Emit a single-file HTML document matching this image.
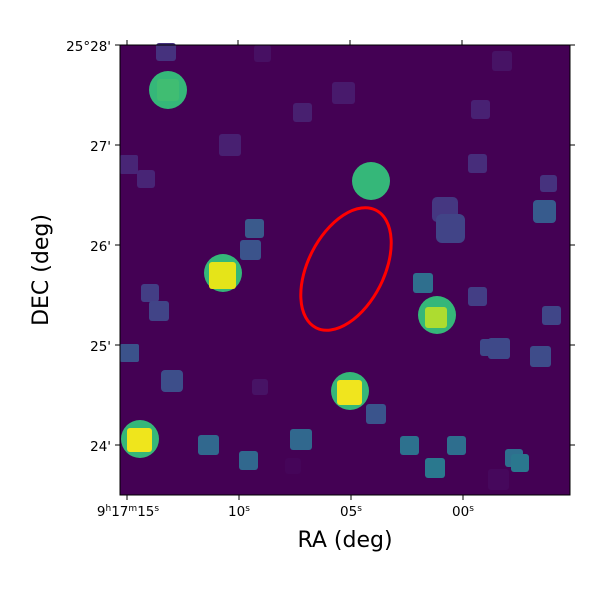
<!DOCTYPE html>
<html><head><style>body{margin:0;background:#fff}</style></head><body>
<svg width="600" height="600" xmlns="http://www.w3.org/2000/svg" font-family="DejaVu Sans, Liberation Sans, sans-serif">
<rect x="120" y="45" width="450" height="450" fill="#440154"/>
<g>
<g fill="#35b779">
<circle cx="168" cy="90" r="19"/><circle cx="371" cy="181" r="19"/><circle cx="223" cy="273" r="19"/>
<circle cx="437" cy="315" r="19"/><circle cx="350" cy="391" r="19"/><circle cx="140" cy="439" r="19"/>
</g>
<g>
<rect x="157" y="79" width="22" height="22" rx="3" fill="#40bd72"/>
<rect x="209" y="262" width="27" height="27" rx="3" fill="#e5e419"/>
<rect x="425" y="307" width="22" height="21" rx="3" fill="#addc30"/>
<rect x="337" y="380" width="25" height="25" rx="3" fill="#f0e51e"/>
<rect x="127" y="428" width="25" height="24" rx="3" fill="#efe51c"/>
</g>
<g>
<rect x="156" y="43" width="20" height="18" rx="3" fill="#46327e"/>
<rect x="254" y="45" width="17" height="17" rx="3" fill="#471063"/>
<rect x="492" y="51" width="20" height="20" rx="3" fill="#471365"/>
<rect x="332" y="82" width="23" height="22" rx="3" fill="#481a6c"/>
<rect x="293" y="103" width="19" height="19" rx="3" fill="#482070"/>
<rect x="471" y="100" width="19" height="19" rx="3" fill="#482173"/>
<rect x="219" y="134" width="22" height="22" rx="3" fill="#482071"/>
<rect x="120" y="155" width="18" height="19" rx="2" fill="#482576"/>
<rect x="137" y="170" width="18" height="18" rx="3" fill="#482576"/>
<rect x="468" y="154" width="19" height="19" rx="3" fill="#472d7b"/>
<rect x="540" y="175" width="17" height="17" rx="3" fill="#46327e"/>
<rect x="245" y="219" width="19" height="19" rx="3" fill="#3a5a8c"/>
<rect x="240" y="240" width="21" height="20" rx="3" fill="#3b538b"/>
<rect x="432" y="197" width="26" height="25" rx="5" fill="#453781"/>
<rect x="436" y="214" width="29" height="29" rx="6" fill="#414487"/>
<rect x="533" y="200" width="23" height="23" rx="4" fill="#375b8d"/>
<rect x="413" y="273" width="20" height="20" rx="3" fill="#2f6f8e"/>
<rect x="141" y="284" width="18" height="18" rx="3" fill="#433e85"/>
<rect x="149" y="301" width="20" height="20" rx="3" fill="#414487"/>
<rect x="468" y="287" width="19" height="19" rx="3" fill="#433e85"/>
<rect x="542" y="306" width="19" height="19" rx="3" fill="#404688"/>
<rect x="120" y="344" width="19" height="18" rx="2" fill="#3b528b"/>
<rect x="480" y="339" width="18" height="17" rx="3" fill="#3e4989"/>
<rect x="488" y="338" width="22" height="21" rx="3" fill="#3e4989"/>
<rect x="530" y="346" width="21" height="21" rx="3" fill="#3e4c8a"/>
<rect x="161" y="370" width="22" height="22" rx="4" fill="#3d4e8a"/>
<rect x="252" y="379" width="16" height="16" rx="3" fill="#471365"/>
<rect x="366" y="404" width="20" height="20" rx="3" fill="#3a548c"/>
<rect x="290" y="429" width="22" height="21" rx="3" fill="#31688e"/>
<rect x="198" y="435" width="21" height="20" rx="3" fill="#31688e"/>
<rect x="239" y="451" width="19" height="19" rx="3" fill="#31688e"/>
<rect x="400" y="436" width="19" height="19" rx="3" fill="#2d718e"/>
<rect x="447" y="436" width="19" height="19" rx="3" fill="#2e6e8e"/>
<rect x="425" y="458" width="20" height="20" rx="3" fill="#2a788e"/>
<rect x="505" y="449" width="18" height="18" rx="3" fill="#2e6f8e"/>
<rect x="511" y="454" width="18" height="18" rx="3" fill="#2a778e"/>
<rect x="488" y="469" width="21" height="21" rx="3" fill="#46085c"/>
<rect x="285" y="458" width="16" height="16" rx="3" fill="#450559"/>
</g>
</g>
<ellipse cx="346" cy="269" rx="38" ry="66" transform="rotate(27 346 269)" fill="none" stroke="#ff0000" stroke-width="3"/>
<rect x="120" y="45" width="450" height="450" fill="none" stroke="#000" stroke-width="1"/>
<g stroke="#000" stroke-width="1">
<line x1="127" y1="495" x2="127" y2="500"/><line x1="239" y1="495" x2="239" y2="500"/><line x1="351" y1="495" x2="351" y2="500"/><line x1="463" y1="495" x2="463" y2="500"/>
<line x1="127" y1="45" x2="127" y2="40"/><line x1="238" y1="45" x2="238" y2="40"/><line x1="350" y1="45" x2="350" y2="40"/><line x1="462" y1="45" x2="462" y2="40"/>
<line x1="120" y1="45" x2="115" y2="45"/><line x1="120" y1="145" x2="115" y2="145"/><line x1="120" y1="245" x2="115" y2="245"/><line x1="120" y1="345" x2="115" y2="345"/><line x1="120" y1="445" x2="115" y2="445"/>
<line x1="570" y1="45" x2="575" y2="45"/><line x1="570" y1="145" x2="575" y2="145"/><line x1="570" y1="245" x2="575" y2="245"/><line x1="570" y1="345" x2="575" y2="345"/><line x1="570" y1="445" x2="575" y2="445"/>
</g>
<g font-size="13.5" fill="#000" text-anchor="end">
<text x="111" y="51">25°28'</text><text x="111" y="151">27'</text><text x="111" y="251">26'</text><text x="111" y="351">25'</text><text x="111" y="451">24'</text>
</g>
<g font-size="13.5" fill="#000" text-anchor="middle">
<text x="128" y="516">9<tspan font-size="9" dy="-5">h</tspan><tspan dy="5">17</tspan><tspan font-size="9" dy="-5">m</tspan><tspan dy="5">15</tspan><tspan font-size="9" dy="-5">s</tspan></text>
<text x="239" y="516">10<tspan font-size="9" dy="-5">s</tspan></text>
<text x="351" y="516">05<tspan font-size="9" dy="-5">s</tspan></text>
<text x="463" y="516">00<tspan font-size="9" dy="-5">s</tspan></text>
</g>
<text x="345" y="547" font-size="22" text-anchor="middle">RA (deg)</text>
<text x="48" y="270" font-size="22" text-anchor="middle" transform="rotate(-90 48 270)">DEC (deg)</text>
</svg>
</body></html>
